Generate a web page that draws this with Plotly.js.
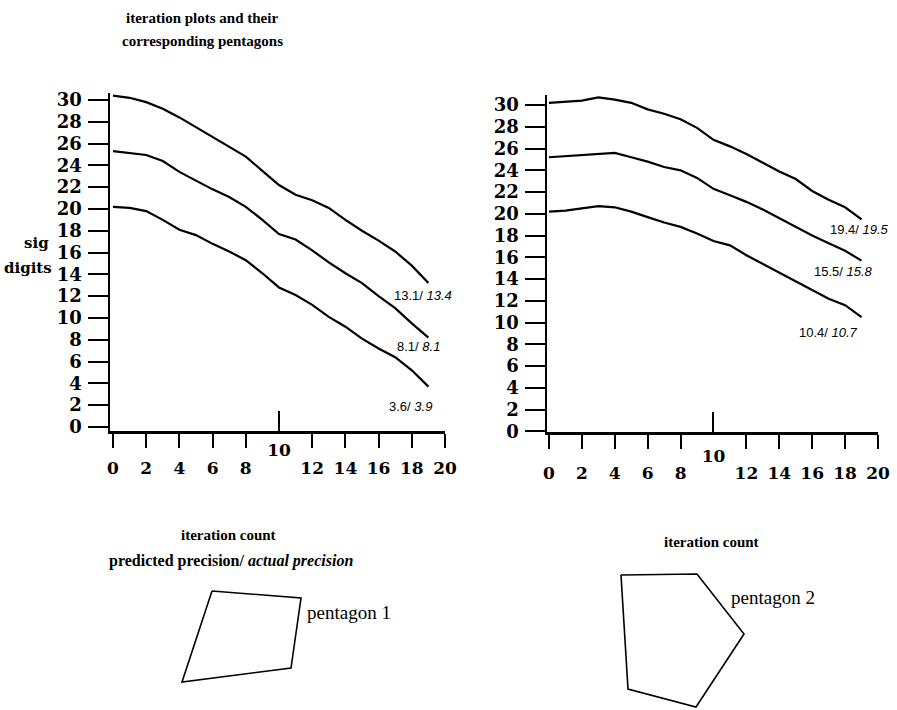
<!DOCTYPE html>
<html>
<head>
<meta charset="utf-8">
<script src="https://cdn.plot.ly/plotly-3.0.1.min.js"></script>
<style>html,body{margin:0;padding:0;background:#fff}#chart{width:897px;height:710px}</style>
</head>
<body>
<div id="chart"></div>
<script>
// ---------- data ----------
const iterations = [0,1,2,3,4,5,6,7,8,9,10,11,12,13,14,15,16,17,18,19];

const leftTop = [30.4,30.2,29.8,29.2,28.4,27.5,26.6,25.7,24.8,23.5,22.2,21.3,20.8,20.1,19.0,18.0,17.1,16.1,14.8,13.2];
const leftMid = [25.3,25.1,24.95,24.4,23.4,22.6,21.8,21.1,20.2,19.0,17.7,17.2,16.2,15.1,14.1,13.2,12.0,10.9,9.5,8.2];
const leftBot = [20.2,20.1,19.8,19.0,18.1,17.6,16.8,16.1,15.3,14.1,12.8,12.1,11.2,10.1,9.2,8.1,7.2,6.4,5.2,3.7];

const rightTop = [30.2,30.3,30.4,30.7,30.5,30.2,29.6,29.2,28.7,27.9,26.8,26.2,25.5,24.7,23.9,23.2,22.1,21.3,20.6,19.5];
const rightMid = [25.2,25.3,25.4,25.5,25.6,25.2,24.8,24.3,24.0,23.3,22.3,21.7,21.1,20.4,19.6,18.8,18.0,17.3,16.6,15.7];
const rightBot = [20.2,20.3,20.5,20.7,20.6,20.2,19.7,19.2,18.8,18.2,17.5,17.1,16.2,15.4,14.6,13.8,13.0,12.2,11.6,10.5];

const leftPredicted = ['13.1','8.1','3.6'];
const leftActual    = ['13.4','8.1','3.9'];
const rightPredicted = ['19.4','15.5','10.4'];
const rightActual    = ['19.5','15.8','10.7'];

const yTickVals = [0,2,4,6,8,10,12,14,16,18,20,22,24,26,28,30];
const xTickVals = [0,2,4,6,8,12,14,16,18,20];
const xMidTick = [10];

// pentagon outlines (page pixel space)
const pent1X = [212,301,291,182,212];
const pent1Y = [591,598,668,682,591];
const pent2X = [621,697,744,696,628,621];
const pent2Y = [575,574,634,707,689,575];

// ---------- drawing ----------
const W = 897, H = 710;
const px = v => v / W;
const py = v => 1 - v / H;

const lineStyle = {color:'#000', width:2.2};
function series(x, y, xa, ya){
  return {x:x, y:y, xaxis:xa, yaxis:ya, type:'scatter', mode:'lines', line:lineStyle, hoverinfo:'skip', showlegend:false};
}
// invisible carrier so the overlaid "10" axes get drawn
function carrier(xa, ya){
  return {x:xMidTick, y:[0], xaxis:xa, yaxis:ya, type:'scatter', mode:'markers', marker:{opacity:0, size:1}, hoverinfo:'skip', showlegend:false};
}

const traces = [
  series(iterations, leftTop, 'x', 'y'),
  series(iterations, leftMid, 'x', 'y'),
  series(iterations, leftBot, 'x', 'y'),
  series(iterations, rightTop, 'x2', 'y2'),
  series(iterations, rightMid, 'x2', 'y2'),
  series(iterations, rightBot, 'x2', 'y2'),
  carrier('x4', 'y'),
  carrier('x5', 'y2'),
  {x:pent1X, y:pent1Y, xaxis:'x3', yaxis:'y3', type:'scatter', mode:'lines', line:{color:'#000', width:1.6}, showlegend:false, hoverinfo:'skip'},
  {x:pent2X, y:pent2Y, xaxis:'x3', yaxis:'y3', type:'scatter', mode:'lines', line:{color:'#000', width:1.6}, showlegend:false, hoverinfo:'skip'}
];

const yTickFont = {family:'DejaVu Serif', size:18, color:'#000', weight:'bold'};
const xTickFont = {family:'DejaVu Serif', size:17, color:'#000', weight:'bold'};

function yAxis(domain, range, anchor){
  return {domain:domain, range:range, anchor:anchor, tickvals:yTickVals, ticks:'outside', ticklen:20, tickwidth:2,
          tickcolor:'#000', showline:true, linewidth:2.5, linecolor:'#000', showgrid:false, zeroline:false,
          tickfont:yTickFont, ticklabelstandoff:2, fixedrange:true};
}
function xAxis(domain, range, anchor, standoff){
  return {domain:domain, range:range, anchor:anchor, tickvals:xTickVals, ticks:'outside', ticklen:14, tickwidth:2,
          tickcolor:'#000', showline:true, linewidth:2.5, linecolor:'#000', showgrid:false, zeroline:false,
          tickfont:xTickFont, ticklabelstandoff:standoff, fixedrange:true};
}
function xMidAxis(over, range, anchor, standoff){
  return {overlaying:over, range:range, anchor:anchor, tickvals:xMidTick, ticktext:xMidTick.map(String), ticks:'inside', ticklen:20, tickwidth:2,
          tickcolor:'#000', showline:false, showgrid:false, zeroline:false, tickfont:xTickFont, ticklabelstandoff:standoff, fixedrange:true};
}

const leftXRange = [-0.18, 20], rightXRange = [-0.12, 20];

const serif = 'Liberation Serif';
const ann = [];
function txt(text, x, y, size, opts){
  ann.push(Object.assign({text:text, x:px(x), y:py(y), xref:'paper', yref:'paper', showarrow:false,
    font:{family:serif, size:size, color:'#000'}, xanchor:'center', yanchor:'middle'}, opts||{}));
}
txt('<b>iteration plots and their</b>', 202, 18, 15);
txt('<b>corresponding pentagons</b>', 202, 41, 15);
txt('<b>sig</b>', 51, 243, 15, {xanchor:'right', font:{family:'DejaVu Serif', size:15, color:'#000'}});
txt('<b>digits</b>', 2, 268, 15, {xanchor:'left', font:{family:'DejaVu Serif', size:15, color:'#000'}});
txt('<b>iteration count</b>', 228, 535, 15);
txt('<b>predicted precision/ <i>actual precision</i></b>', 231, 561, 16);
txt('<b>iteration count</b>', 711, 542, 15);
txt('pentagon 1', 349, 612, 19);
txt('pentagon 2', 773, 597, 19);

// precision labels at the end of each curve
const numFont = {family:'Liberation Sans', size:13, color:'#000'};
const leftLabelPos = [[18.7,12.1],[18.4,7.4],[17.9,1.9]];
const rightLabelPos = [[18.9,18.6],[17.9,14.7],[17.0,9.1]];
leftPredicted.forEach((p,i)=>ann.push({text:p+'/ <i>'+leftActual[i]+'</i>', x:leftLabelPos[i][0], y:leftLabelPos[i][1], xref:'x', yref:'y', showarrow:false, font:numFont}));
rightPredicted.forEach((p,i)=>ann.push({text:p+'/ <i>'+rightActual[i]+'</i>', x:rightLabelPos[i][0], y:rightLabelPos[i][1], xref:'x2', yref:'y2', showarrow:false, font:numFont}));

const layout = {
  width:W, height:H, margin:{l:0,r:0,t:0,b:0}, paper_bgcolor:'#fff', plot_bgcolor:'rgba(0,0,0,0)',
  showlegend:false,
  xaxis: xAxis([px(110), px(445)], leftXRange, 'y', 6),
  yaxis: yAxis([py(431), py(93)], [-0.37, 30.64], 'x'),
  xaxis2: xAxis([px(547), px(878)], rightXRange, 'y2', 10),
  yaxis2: yAxis([py(432), py(95)], [-0.05, 30.92], 'x2'),
  xaxis3: {domain:[0,1], range:[0,W], anchor:'y3', visible:false, fixedrange:true},
  yaxis3: {domain:[0,1], range:[H,0], anchor:'x3', visible:false, fixedrange:true},
  xaxis4: xMidAxis('x', leftXRange, 'y', 7),
  xaxis5: xMidAxis('x2', rightXRange, 'y2', 12),
  annotations: ann
};

Plotly.newPlot('chart', traces, layout, {displayModeBar:false, staticPlot:true});
</script>
</body>
</html>
